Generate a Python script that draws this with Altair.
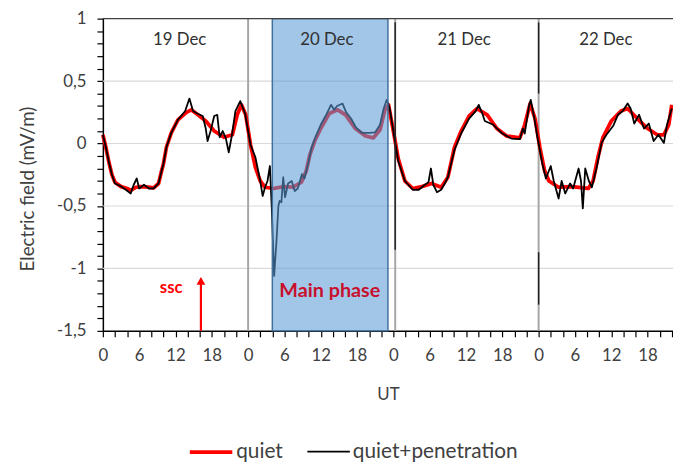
import altair as alt
import pandas as pd

FONT = "Lato"

# ---- data (hours since 19 Dec 00 UT, electric field mV/m) ----
quiet_t = [0, 0.5, 1, 1.5, 2, 3, 4, 4.6, 5.5, 6.2, 7.5, 8.4, 9.2, 9.7, 10.0, 10.5, 11.3, 12.4, 13.8, 14.6,
           15.7, 17.0, 18.4, 20.0, 21.4, 22.2, 22.9, 23.6, 24.4, 25.2, 26.0, 26.8, 28.2, 29.8, 31.4, 32.8,
           33.6, 34.2, 35.0, 36.0, 37.4, 38.8, 40.1, 41.7, 43.4, 44.7, 45.8, 46.6, 47.2, 48.0, 48.8, 49.9,
           51.2, 52.7, 54.3, 55.9, 57.0, 58.1, 59.2, 60.5, 61.8, 63.5, 65.1, 66.7, 68.9, 69.7, 70.6, 71.4,
           72.2, 73.0, 73.7, 75.3, 77.5, 80.2, 81.0, 81.8, 82.6, 84.0, 85.6, 86.7, 88.3, 90.0, 91.6, 92.7,
           93.5, 94.0]
quiet_v = [0.07, -0.03, -0.15, -0.25, -0.31, -0.345, -0.36, -0.375, -0.35, -0.345, -0.35, -0.355, -0.32, -0.22,
           -0.165, -0.03, 0.085, 0.19, 0.25, 0.27, 0.23, 0.18, 0.10, 0.05, 0.07, 0.23, 0.31, 0.23, -0.01, -0.19,
           -0.30, -0.35, -0.36, -0.345, -0.35, -0.31, -0.22, -0.09, 0.02, 0.12, 0.24, 0.27, 0.23, 0.12, 0.06,
           0.045, 0.11, 0.27, 0.31, 0.10, -0.12, -0.30, -0.36, -0.345, -0.32, -0.35, -0.27, -0.03, 0.10, 0.22,
           0.28, 0.23, 0.12, 0.06, 0.045, 0.15, 0.32, 0.20, -0.03, -0.22, -0.30, -0.35, -0.345, -0.36, -0.30,
           -0.11, 0.045, 0.18, 0.26, 0.28, 0.20, 0.12, 0.07, 0.07, 0.15, 0.31]

pen_t = [0, 0.5, 1, 1.5, 2, 2.9, 3.8, 4.6, 5.1, 5.6, 6.0, 6.8, 7.6, 8.4, 9.2, 9.7, 10.0, 10.5, 11.3, 12.4,
         13.6, 14.3, 14.9, 15.6, 16.5, 17.0, 17.3, 17.8, 18.4, 18.9, 19.3, 19.8, 20.3, 20.8, 21.3, 21.9,
         22.7, 23.5, 24.4, 25.2, 26.0, 26.4, 26.8, 27.2, 27.6, 27.9, 28.3, 28.7, 29.0, 29.2, 29.5, 29.8,
         30.1, 30.6, 31.2, 31.7, 32.2, 32.9, 33.3, 33.9, 34.5, 35.2, 36.0, 37.0, 37.7, 38.2, 38.7, 39.6,
         40.2, 41.0, 41.8, 42.8, 44.0, 45.0, 45.8, 46.4, 46.9, 47.4, 48.0, 48.8, 49.9, 51.2, 52.2, 53.2,
         53.8, 54.2, 54.6, 55.2, 55.9, 56.5, 57.0, 58.1, 59.2, 60.5, 61.6, 62.1, 62.7, 63.1, 64.5, 66.0,
         67.5, 68.9, 69.4, 69.7, 70.4, 70.7, 71.3, 71.8, 72.6, 73.2, 74.0, 74.5, 75.3, 75.8, 76.4, 77.2,
         77.7, 78.6, 79.0, 79.3, 79.7, 80.3, 80.8, 81.6, 82.4, 83.2, 84.3, 85.1, 85.9, 86.7, 87.2, 87.8,
         88.6, 89.4, 90.2, 91.0, 91.8, 92.7, 93.2, 94.0]
pen_v = [0.07, -0.03, -0.15, -0.25, -0.32, -0.34, -0.37, -0.40, -0.33, -0.28, -0.36, -0.33, -0.36, -0.36,
         -0.32, -0.22, -0.165, -0.03, 0.085, 0.19, 0.26, 0.36, 0.26, 0.24, 0.22, 0.12, 0.02, 0.10, 0.22, 0.23,
         0.05, 0.10, 0.045, -0.07, 0.06, 0.26, 0.34, 0.24, -0.01, -0.11, -0.30, -0.42, -0.35, -0.30, -0.18,
         -0.51, -1.06, -0.77, -0.50, -0.46, -0.47, -0.27, -0.43, -0.32, -0.30, -0.38, -0.36, -0.245, -0.28,
         -0.165, -0.03, 0.06, 0.15, 0.24, 0.31, 0.27, 0.30, 0.32, 0.25, 0.20, 0.13, 0.085, 0.085, 0.09, 0.15,
         0.28, 0.35, 0.28, 0.10, -0.14, -0.30, -0.37, -0.37, -0.33, -0.31, -0.20, -0.33, -0.39, -0.37, -0.32,
         -0.27, -0.05, 0.08, 0.20, 0.26, 0.31, 0.24, 0.18, 0.15, 0.08, 0.04, 0.035, 0.12, 0.08, 0.30, 0.35,
         0.20, 0.05, -0.16, -0.28, -0.18, -0.30, -0.44, -0.30, -0.40, -0.32, -0.36, -0.20, -0.30, -0.52,
         -0.20, -0.30, -0.35, -0.19, 0.005, 0.07, 0.14, 0.23, 0.26, 0.32, 0.28, 0.16, 0.23, 0.12, 0.16, 0.02,
         0.07, 0.005, 0.15, 0.28]

series_names = ["quiet", "quiet+penetration"]
series_colors = ["#ff0000", "#000000"]
series_widths = [3.8, 1.8]

day_labels = ["19 Dec", "20 Dec", "21 Dec", "22 Dec"]
day_label_t = [12.7, 37.0, 59.7, 83.1]
day_label_v = [0.83, 0.83, 0.83, 0.83]

day_sep_t = [24, 48.3, 72]
dark_sep_t = [48.3, 72, 72]
dark_sep_top = [0.97, 0.97, -0.87]
dark_sep_bot = [-0.85, 0.4, -1.29]

main_phase_start = [28.0]
main_phase_end = [47.1]
ssc_t = [16.2]

grid_v = [-1.0, -0.5, 0.0, 0.5]
x_ticks = list(range(0, 95, 2))
y_ticks = [round(-1.5 + 0.1 * i, 1) for i in range(26)]

X_DOMAIN = [0, 94.2]
Y_DOMAIN = [-1.5, 1]

xs = alt.Scale(domain=X_DOMAIN, nice=False, zero=False)
ys = alt.Scale(domain=Y_DOMAIN, nice=False, zero=False)

color_scale = alt.Scale(domain=series_names, range=series_colors)
width_scale = alt.Scale(domain=series_names, range=series_widths)

x_axis = alt.Axis(values=x_ticks, title="UT",
                  labelExpr="datum.value % 6 == 0 ? '' + (datum.value % 24) : ''",
                  grid=False, domainColor="#000000", domainWidth=1.5, tickColor="#000000",
                  tickWidth=1.2, tickSize=6, labelPadding=11, labelFontSize=17, labelColor="#404040",
                  labelFont=FONT, titleFont=FONT, titleFontSize=17, titleFontWeight="normal",
                  titleColor="#404040", titleY=64, titleBaseline="middle",
                  labelOverlap=False, labelFlush=False)
y_axis = alt.Axis(values=y_ticks, title="Electric field (mV/m)",
                  labelExpr="abs(datum.value*2 - round(datum.value*2)) < 0.001 ? replace('' + datum.value, '.', ',') : ''",
                  grid=False, domainColor="#000000", domainWidth=1.5, tickColor="#000000",
                  tickWidth=1.2, tickSize=6, labelPadding=11, labelFontSize=17, labelColor="#404040",
                  labelFont=FONT, titleFont=FONT, titleFontSize=19, titleFontWeight="normal",
                  titleColor="#404040", titleX=-76, titleY=172, titleBaseline="middle",
                  labelOverlap=False, labelFlush=False)


def X(f):
    return alt.X(f, type="quantitative", scale=xs, axis=x_axis)


def Y(f):
    return alt.Y(f, type="quantitative", scale=ys, axis=y_axis)


quiet_df = pd.DataFrame({"t": quiet_t, "v": quiet_v, "series": series_names[0]})
pen_df = pd.DataFrame({"t": pen_t, "v": pen_v, "series": series_names[1]})

grid = alt.Chart(pd.DataFrame({"v": grid_v})).mark_rule(
    color="#d9d9d9", strokeWidth=1.2).encode(y=Y("v"))

top_border = alt.Chart(pd.DataFrame({"v": [Y_DOMAIN[1]]})).mark_rule(color="#404040", strokeWidth=1.2).encode(
    y=Y("v"))

seps = alt.Chart(pd.DataFrame({"t": day_sep_t})).mark_rule(color="#a6a6a6", strokeWidth=2).encode(
    x=X("t"))

dark_seps = alt.Chart(pd.DataFrame({"t": dark_sep_t, "a": dark_sep_top, "b": dark_sep_bot})).mark_rule(
    color="#222222", strokeWidth=1.5).encode(x=X("t"), y=Y("a"), y2="b:Q")

legend = alt.Legend(orient="none", legendX=86, legendY=415, direction="horizontal", title=None,
                    symbolType="stroke", symbolSize=1850, labelFont=FONT, labelFontSize=21,
                    labelColor="#404040", columnPadding=20, labelOffset=2, labelLimit=400)

line_q = alt.Chart(quiet_df).mark_line(strokeJoin="round").encode(
    x=X("t"), y=Y("v"),
    color=alt.Color("series:N", scale=color_scale, legend=legend),
    strokeWidth=alt.StrokeWidth("series:N", scale=width_scale, legend=legend))
line_p = alt.Chart(pen_df).mark_line(strokeJoin="round").encode(
    x=X("t"), y=Y("v"),
    color=alt.Color("series:N", scale=color_scale, legend=legend),
    strokeWidth=alt.StrokeWidth("series:N", scale=width_scale, legend=legend))

rect = alt.Chart(pd.DataFrame({"a": main_phase_start, "b": main_phase_end})).mark_rect(
    fill="#5b9bd5", fillOpacity=0.57, stroke="#41719c", strokeWidth=1.5).encode(
    x=X("a"), x2="b:Q", y=alt.value(0), y2=alt.value(316))

days = alt.Chart(pd.DataFrame({"t": day_label_t, "v": day_label_v, "lab": day_labels})).mark_text(
    font=FONT, fontSize=17, color="#303030").encode(x=X("t"), y=Y("v"), text="lab:N")

main_txt = alt.Chart(pd.DataFrame({"t": [37.5], "v": [-1.18], "lab": ["Main phase"]})).mark_text(
    font=FONT, fontSize=20, fontWeight="bold", color="#c8102e").encode(x=X("t"), y=Y("v"), text="lab:N")

ssc_txt = alt.Chart(pd.DataFrame({"t": [11.3], "v": [-1.16], "lab": ["ssc"]})).mark_text(
    font=FONT, fontSize=17, fontWeight="bold", color="#ff0000").encode(x=X("t"), y=Y("v"), text="lab:N")

arrow_shaft = alt.Chart(pd.DataFrame({"t": ssc_t, "a": [-1.5], "b": [-1.1]})).mark_rule(
    color="#ff0000", strokeWidth=2.2).encode(x=X("t"), y=Y("a"), y2="b:Q")
arrow_head = alt.Chart(pd.DataFrame({"t": ssc_t, "v": [-1.1]})).mark_point(
    shape="triangle-up", filled=True, color="#ff0000", size=80, opacity=1).encode(x=X("t"), y=Y("v"))

chart = alt.layer(grid, seps, line_q, line_p, dark_seps, rect, top_border, days, main_txt, ssc_txt,
                  arrow_shaft, arrow_head).properties(
    width=577, height=316,
    padding={"left": 96, "top": 8, "right": 0, "bottom": 134},
    autosize=alt.AutoSizeParams(type="none"),
    background="#ffffff",
).configure_view(stroke=None).resolve_scale(color="shared", strokeWidth="shared")

chart.save("out.html", embed_options={"renderer": "svg", "actions": False})
